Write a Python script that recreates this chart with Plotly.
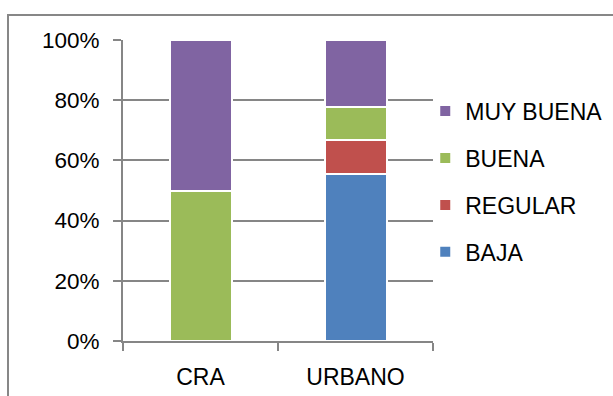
import plotly.graph_objects as go

categories = ["CRA", "URBANO"]
series_names = ["BAJA", "REGULAR", "BUENA", "MUY BUENA"]
baja = [0, 55.6]
regular = [0, 11.1]
buena = [50, 11.1]
muy_buena = [50, 22.2]
colors = ["#4F81BD", "#C0504D", "#9BBB59", "#8064A2"]
y_ticks = [0, 20, 40, 60, 80, 100]
y_tick_text = ["0%", "20%", "40%", "60%", "80%", "100%"]

fig = go.Figure()
for i, (name, vals, col) in enumerate(zip(series_names, [baja, regular, buena, muy_buena], colors)):
    fig.add_trace(go.Bar(
        x=categories, y=vals, name=name, legendgroup=name,
        legendrank=10 - i,
        marker=dict(color=col, line=dict(color="white", width=2)),
        width=0.4,
    ))

font = dict(family="Liberation Sans, Arial, sans-serif", size=22.5, color="#000000")
fig.update_layout(
    barmode="stack",
    width=613, height=396,
    margin=dict(l=123, r=180, t=40, b=55, autoexpand=False),
    paper_bgcolor="white", plot_bgcolor="white",
    font=font,
    showlegend=True,
    legend=dict(
        traceorder="grouped", tracegroupgap=14,
        x=0.975, xanchor="left", y=0.835, yanchor="top",
        font=dict(family="Liberation Sans, Arial, sans-serif", size=23, color="#000000"),
        itemwidth=30, bgcolor="rgba(0,0,0,0)",
    ),
)
fig.update_xaxes(
    showline=True, linecolor="#868686", linewidth=2,
    ticks="outside", tickson="boundaries", ticklen=8, tickwidth=2, tickcolor="#868686",
    showgrid=False, ticklabelstandoff=14, automargin=False,
    tickfont=dict(size=23),
)
fig.update_yaxes(
    range=[0, 100], tickvals=y_ticks, ticktext=y_tick_text,
    showline=True, linecolor="#868686", linewidth=2,
    ticks="outside", ticklen=8, tickwidth=2, tickcolor="#868686",
    showgrid=True, gridcolor="#868686", gridwidth=2,
    zeroline=False, ticklabelstandoff=9, automargin=False,
)
fig.add_shape(type="rect", xref="paper", yref="paper",
              x0=(8 - 123) / 310, x1=(720 - 123) / 310,
              y0=(341 - 430) / 301, y1=(341 - 15) / 301,
              line=dict(color="#878787", width=2), fillcolor="rgba(0,0,0,0)", layer="below")
fig.write_html("out.html")
